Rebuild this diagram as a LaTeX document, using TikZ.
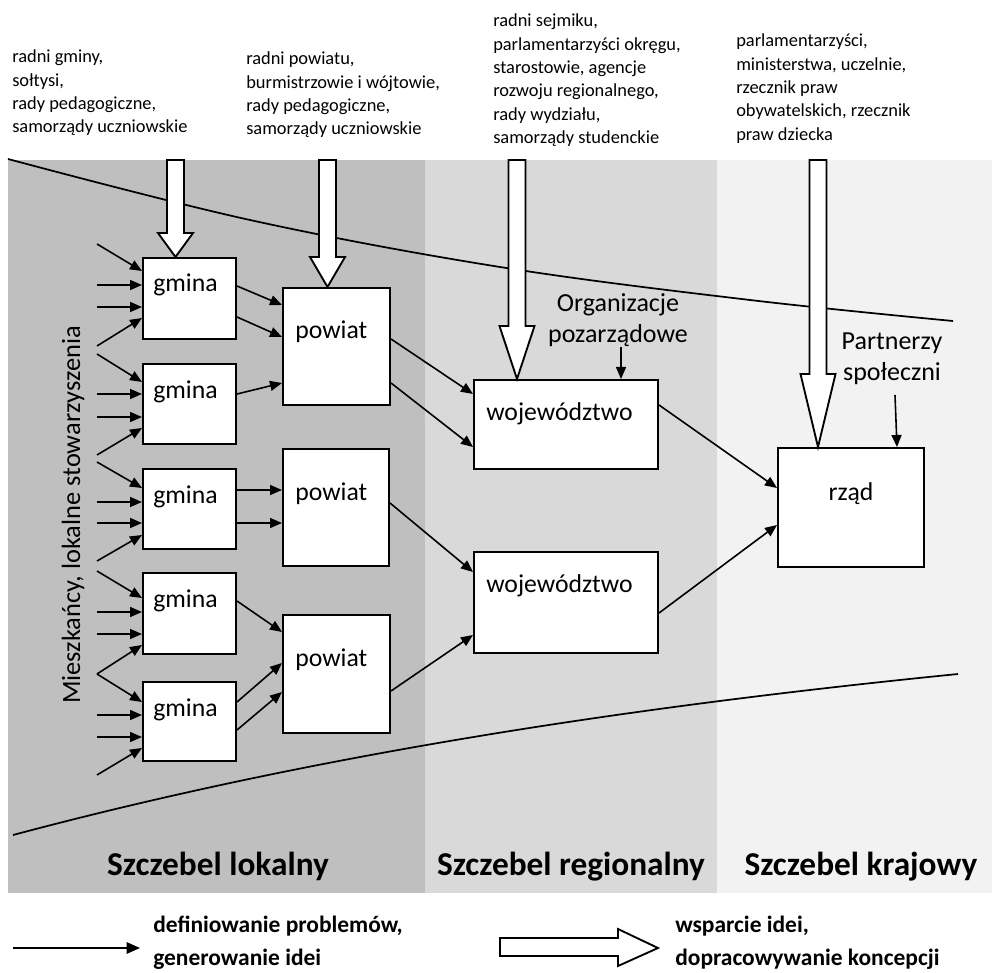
\documentclass[tikz,border=0pt]{standalone}
\usepackage{fontspec}
\setmainfont{Carlito}
\usetikzlibrary{arrows.meta,calc}
\definecolor{bandL}{HTML}{BFBFBF}
\definecolor{bandM}{HTML}{D9D9D9}
\definecolor{bandR}{HTML}{F2F2F2}
\newcommand\pxu{0.75pt}
\tikzset{
  box/.style={draw, fill=white, line width=1.5pt, inner sep=0pt, anchor=north west},
  con/.style={line width=1.2pt, -{Triangle[length=9pt,width=7.5pt]}},
  curveline/.style={line width=1.3pt},
  bigarr/.style={draw, fill=white, line width=1.4pt, line join=miter},
  lbl/.style={font=\fontsize{19.3}{23}\selectfont, inner sep=0pt},
  toptext/.style={font=\fontsize{13.8}{17.5}\selectfont, inner sep=0pt},
  sect/.style={font=\bfseries\fontsize{25}{30}\selectfont, inner sep=0pt},
  legtext/.style={font=\bfseries\fontsize{17.6}{24.75}\selectfont, inner sep=0pt},
}
\newcommand\bigarrow[3]{%
  \draw[bigarr] ($(#1)+(-8.5,0)$) -- ($(#1)+(8.5,0)$) -- ($(#2)+(8.5,-#3)$) -- ($(#2)+(17.5,-#3)$) -- (#2) -- ($(#2)+(-17.5,-#3)$) -- ($(#2)+(-8.5,-#3)$) -- cycle;}
\begin{document}
\begin{tikzpicture}[x={(0.75pt,0)}, y={(0,-0.75pt)}]
\useasboundingbox (0,0) rectangle (992,973);
% bands
\fill[bandL] (8,160) rectangle (425,893);
\fill[bandM] (425,160) rectangle (717,893);
\fill[bandR] (717,160) rectangle (992,893);
% curves
\draw[curveline] plot[smooth, tension=0.6] coordinates {(8,159) (250,220) (500,267) (750,300) (953,321)};
\draw[curveline] (13,835) .. controls (313,755) and (628,707) .. (958,674);
% boxes
\node[box, minimum width=93*\pxu, minimum height=81*\pxu] (g1) at (142,257) {};
\node[box, minimum width=93*\pxu, minimum height=80*\pxu] (g2) at (142,363) {};
\node[box, minimum width=93*\pxu, minimum height=80*\pxu] (g3) at (142,468) {};
\node[box, minimum width=93*\pxu, minimum height=81*\pxu] (g4) at (142,572) {};
\node[box, minimum width=93*\pxu, minimum height=79*\pxu] (g5) at (142,681) {};
\node[box, minimum width=107*\pxu, minimum height=117*\pxu] (p1) at (282,287) {};
\node[box, minimum width=106*\pxu, minimum height=117*\pxu] (p2) at (282,448) {};
\node[box, minimum width=107*\pxu, minimum height=118*\pxu] (p3) at (282,614) {};
\node[box, minimum width=184*\pxu, minimum height=89*\pxu] (w1) at (473,379) {};
\node[box, minimum width=184*\pxu, minimum height=101*\pxu] (w2) at (473,551) {};
\node[box, minimum width=146*\pxu, minimum height=119*\pxu] (r) at (777,447) {};
% box labels
\foreach \g in {g1,g2,g3,g4,g5}
  \node[lbl, anchor=base west] (\g t) at ($(\g.north west)+(11,35)$) {gmina};
\foreach \p in {p1,p2,p3}
  \node[lbl, anchor=base west] (\p t) at ($(\p.north west)+(13,52)$) {powiat};
\foreach \w in {w1,w2}
  \node[lbl, anchor=base west] (\w t) at ($(\w.north west)+(13,41)$) {województwo};
\node[lbl, anchor=base] (rt) at ($(r.north)+(0,53)$) {rząd};
% input arrows
\foreach \g/\sa/\a/\b/\c/\d/\sd in {g1/244/14/28/50/61/346, g2/354/19/31/54/65/455, g3/462/20/34/55/67/561, g4/571/26/40/62/73/674, g5/674/21/34/56/67/775}{
  \draw[con] (97,\sa) -- ($(\g.north west)+(0,\a)$);
  \draw[con] ($(\g.north west)+(-45,\b)$) -- ($(\g.north west)+(0,\b)$);
  \draw[con] ($(\g.north west)+(-45,\c)$) -- ($(\g.north west)+(0,\c)$);
  \draw[con] (97,\sd) -- ($(\g.north west)+(0,\d)$);
}
% gmina -> powiat
\draw[con] ($(g1.north east)+(0,29)$) -- ($(p1.north west)+(0,18)$);
\draw[con] ($(g1.north east)+(0,60)$) -- ($(p1.north west)+(0,50)$);
\draw[con] ($(g2.north east)+(0,31)$) -- ($(p1.north west)+(0,96)$);
\draw[con] ($(g3.north east)+(0,22)$) -- ($(p2.north west)+(0,42)$);
\draw[con] ($(g3.north east)+(0,55)$) -- ($(p2.north west)+(0,75)$);
\draw[con] ($(g4.north east)+(0,29)$) -- ($(p3.north west)+(0,18)$);
\draw[con] ($(g5.north east)+(0,21)$) -- ($(p3.north west)+(0,49)$);
\draw[con] ($(g5.north east)+(0,49)$) -- ($(p3.north west)+(0,78)$);
% powiat -> wojewodztwo
\draw[con] ($(p1.north east)+(0,52)$) -- ($(w1.north west)+(0,15)$);
\draw[con] ($(p1.north east)+(0,96)$) -- ($(w1.north west)+(0,68)$);
\draw[con] ($(p2.north east)+(0,55)$) -- ($(w2.north west)+(0,21)$);
\draw[con] ($(p3.north east)+(0,77)$) -- ($(w2.north west)+(0,84)$);
% wojewodztwo -> rzad
\draw[con] ($(w1.north east)+(0,26)$) -- ($(r.north west)+(0,41)$);
\draw[con] ($(w2.north east)+(0,62)$) -- ($(r.north west)+(0,78)$);
% side labels
\node[font=\fontsize{19.5}{23.25}\selectfont, inner sep=0pt, anchor=base] (org) at (618,312)
  {\begin{tabular}[t]{@{}c@{}}Organizacje\\ pozarządowe\end{tabular}};
\node[font=\fontsize{19.5}{23.25}\selectfont, inner sep=0pt, anchor=base] (part) at (892,350)
  {\begin{tabular}[t]{@{}c@{}}Partnerzy\\ społeczni\end{tabular}};
\coordinate (orgs) at (621,347);
\coordinate (parts) at (895,395);
\draw[con] (orgs) -- ($(w1.north west)+(148,0)$);
\draw[con] (parts) -- ($(r.north west)+(120,0)$);
\node[font=\fontsize{19.8}{24}\selectfont, inner sep=0pt, rotate=90, anchor=base] (res) at (80,515) {Mieszkańcy, lokalne stowarzyszenia};
% top texts
\node[toptext, anchor=base west] (tt1) at (12,63)
  {\begin{tabular}[t]{@{}l@{}}radni gminy,\\ sołtysi,\\ rady pedagogiczne,\\ samorządy uczniowskie\end{tabular}};
\node[toptext, anchor=base west] (tt2) at (246,65)
  {\begin{tabular}[t]{@{}l@{}}radni powiatu,\\ burmistrzowie i wójtowie,\\ rady pedagogiczne,\\ samorządy uczniowskie\end{tabular}};
\node[toptext, anchor=base west] (tt3) at (493,27)
  {\begin{tabular}[t]{@{}l@{}}radni sejmiku,\\ parlamentarzyści okręgu,\\ starostowie, agencje\\ rozwoju regionalnego,\\ rady wydziału,\\ samorządy studenckie\end{tabular}};
\node[toptext, anchor=base west] (tt4) at (736,47)
  {\begin{tabular}[t]{@{}l@{}}parlamentarzyści,\\ ministerstwa, uczelnie,\\ rzecznik praw\\ obywatelskich, rzecznik\\ praw dziecka\end{tabular}};
% big arrows
\coordinate (a1) at (175.5,160);
\coordinate (a2) at (327.5,160);
\coordinate (a3) at (517,160);
\coordinate (a4) at (818,160);
\coordinate (b1) at (a1 |- g1.north);
\coordinate (b2) at (a2 |- p1.north);
\coordinate (b3) at (a3 |- w1.north);
\coordinate (b4) at (a4 |- r.north);
\bigarrow{a1}{b1}{24}
\bigarrow{a2}{b2}{30}
\bigarrow{a3}{b3}{53}
\bigarrow{a4}{b4}{73}
% section labels
\node[sect, anchor=base] (s1) at (218,875) {Szczebel lokalny};
\node[sect, anchor=base] (s2) at (571,875) {Szczebel regionalny};
\node[sect, anchor=base] (s3) at (861,875) {Szczebel krajowy};
% legend
\node[legtext, anchor=base west] (l1) at (153,932)
  {\begin{tabular}[t]{@{}l@{}}definiowanie problemów,\\ generowanie idei\end{tabular}};
\node[legtext, anchor=base west] (l2) at (675,932)
  {\begin{tabular}[t]{@{}l@{}}wsparcie idei,\\ dopracowywanie koncepcji\end{tabular}};
\coordinate (la0) at (13,948);
\coordinate (la1) at (140,948);
\draw[line width=1.4pt, -{Triangle[length=10pt,width=8.5pt]}] (la0) -- (la1);
\draw[bigarr] (500,938) -- (618,938) -- (618,929) -- (658,948) -- (618,966) -- (618,956) -- (500,956) -- cycle;
\end{tikzpicture}
\end{document}
